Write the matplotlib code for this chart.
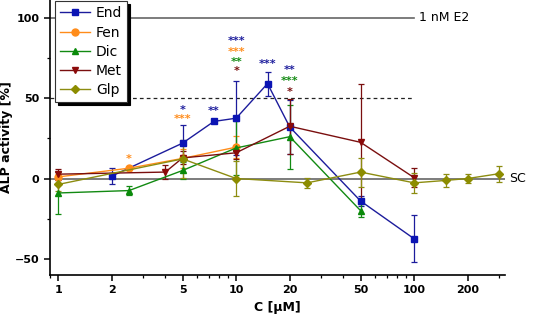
import matplotlib
matplotlib.use("Agg")
import matplotlib.pyplot as plt
from matplotlib.ticker import FixedLocator, NullFormatter, LogLocator
from matplotlib.lines import Line2D
import numpy as np

# ---- data ----
end_x = [2, 5, 7.5, 10, 15, 20, 50, 100]
end_y = [1.5, 22, 35.5, 37.5, 59, 32, -14, -37.5]
end_e = [5, 11, 0, 23, 7.5, 17, 3, 14.5]

fen_x = [1, 2.5, 5, 10]
fen_y = [1, 6.4, 12.5, 19.5]
fen_e = [2, 1, 6, 7]

dic_x = [1, 2.5, 5, 10, 20, 50]
dic_y = [-9, -7.5, 5, 19, 26, -20]
dic_e = [13, 3, 5, 17, 20, 4]

met_x = [1, 4, 5, 10, 20, 50, 100]
met_y = [2.7, 4, 12.8, 16, 32.5, 22.5, 0.5]
met_e = [3.5, 4.5, 4, 4, 17, 36, 6]

glp_x = [1, 5, 10, 25, 50, 100, 150, 200, 300]
glp_y = [-3.7, 12.2, 0, -2.7, 4, -2.7, -1.2, 0, 3]
glp_e = [4, 12, 11, 3, 9, 6, 4, 3, 5]

series = [
    ("End", end_x, end_y, end_e, "#1c1c9c", "#0b14b4", "s"),
    ("Fen", fen_x, fen_y, fen_e, "#ff8c1a", "#ff8c1a", "o"),
    ("Dic", dic_x, dic_y, dic_e, "#128a12", "#0a8a0a", "^"),
    ("Met", met_x, met_y, met_e, "#7a0f0f", "#8b0a0a", "v"),
    ("Glp", glp_x, glp_y, glp_e, "#8c8c10", "#8c8c00", "D"),
]

# significance stars
star_x = [2.5, 5, 5, 7.5, 10, 10, 10, 10, 15, 20, 20, 20]
star_y = [12.4, 42.9, 37.3, 41.8, 85.3, 78.7, 72.2, 66.6, 71.4, 67.3, 60.9, 53.9]
star_t = ["*", "*", "***", "**", "***", "***", "**", "*", "***", "**", "***", "*"]
star_c = ["#ff8c1a", "#1c1c9c", "#ff8c1a", "#1c1c9c", "#1c1c9c", "#ff8c1a",
          "#128a12", "#7a0f0f", "#1c1c9c", "#1c1c9c", "#128a12", "#7a0f0f"]

xticks = [1, 2, 5, 10, 20, 50, 100, 200]
yticks = [-50, 0, 50, 100]

fig = plt.figure(figsize=(5.36, 3.21), dpi=100)
ax = fig.add_axes([0.0933, 0.1433, 0.849, 0.8567])
ax.set_xscale("log")
ax.set_xlim(0.90, 324)
ax.set_ylim(-60, 111)

# reference lines
ax.plot([0.90, 100], [100, 100], color="#666666", lw=1.2, zorder=1)
ax.plot([0.90, 100], [50, 50], color="#222222", lw=0.9, ls=(0, (3, 2.5)), zorder=1)
ax.plot([0.90, 324], [0, 0], color="#666666", lw=1.2, zorder=1)
ax.text(106, 100, "1 nM E2", fontsize=9, va="center", ha="left")
ax.text(340, 0, "SC", fontsize=9, va="center", ha="left", clip_on=False)

handles = []
for name, x, y, e, lc, mc, m in series:
    ms = 5 if m != "D" else 4.5
    ax.errorbar(x, y, yerr=e, color=lc, lw=1.0, marker=m, ms=ms,
                mfc=mc, mec=mc, capsize=2.5, elinewidth=0.9, capthick=0.9,
                zorder=3)
    handles.append(Line2D([], [], color=lc, lw=1.0, marker=m, ms=ms,
                          mfc=mc, mec=mc, label=name))

for sx, sy, st, sc in zip(star_x, star_y, star_t, star_c):
    ax.text(sx, sy, st, color=sc, fontsize=8, fontweight="bold",
            ha="center", va="center", zorder=4)

for s in ["top", "right"]:
    ax.spines[s].set_visible(False)
ax.spines["left"].set_linewidth(1.2)
ax.spines["bottom"].set_linewidth(1.2)

ax.set_xticks(xticks)
ax.set_xticklabels([str(t) for t in xticks])
ax.xaxis.set_minor_locator(LogLocator(base=10, subs=np.arange(2, 10)))
ax.xaxis.set_minor_formatter(NullFormatter())
ax.set_yticks(yticks)
ax.yaxis.set_minor_locator(FixedLocator([-25, 25, 75]))
ax.tick_params(axis="both", which="major", direction="out", length=4, width=1.1,
               labelsize=8)
ax.tick_params(axis="both", which="minor", direction="out", length=2.5, width=0.9)
for lab in ax.get_xticklabels() + ax.get_yticklabels():
    lab.set_fontweight("bold")

ax.set_xlabel("C [µM]", fontsize=9, fontweight="bold")
ax.set_ylabel("ALP activity [%]", fontsize=9, fontweight="bold")
ax.yaxis.set_label_coords(-0.082, 0.5)

leg = ax.legend(handles=handles, loc="upper left", bbox_to_anchor=(0.011, 0.995),
                fontsize=10, frameon=True, fancybox=False, edgecolor="#333333",
                shadow={"color": "black", "alpha": 1.0}, borderpad=0.35,
                labelspacing=0.38, handlelength=2.2, handletextpad=0.4,
                borderaxespad=0)
leg.get_frame().set_linewidth(0.8)

fig.savefig("out.png", dpi=100)
